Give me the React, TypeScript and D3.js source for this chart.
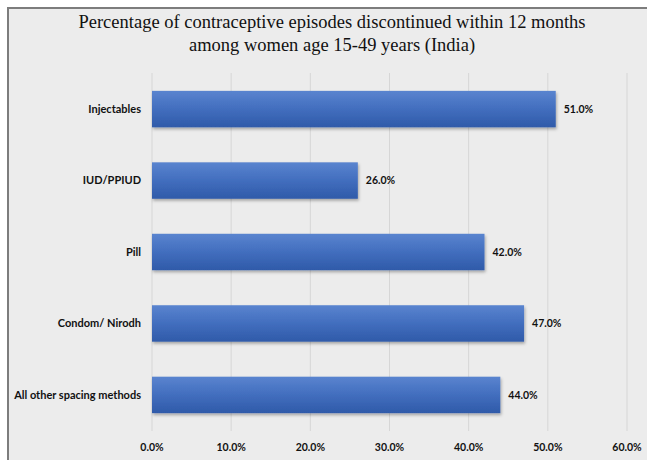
import { useEffect, useRef } from 'react';
import * as d3 from 'd3';

const titleLines = [
  'Percentage of contraceptive episodes discontinued within 12 months',
  'among women age 15-49 years (India)',
];
const categories = ['Injectables', 'IUD/PPIUD', 'Pill', 'Condom/ Nirodh', 'All other spacing methods'];
const values = [51.0, 26.0, 42.0, 47.0, 44.0];
const ticks = [0, 10, 20, 30, 40, 50, 60];

const WIDTH = 647;
const HEIGHT = 460;

export default function App() {
  const svgRef = useRef<SVGSVGElement>(null);

  useEffect(() => {
    if (!svgRef.current) return;
    const margin = { top: 73, right: 20, bottom: 29, left: 152 };
    const plotRight = 627;

    d3.select(svgRef.current).selectAll('*').remove();
    const svg = d3.select(svgRef.current).attr('width', WIDTH).attr('height', HEIGHT);

    // Defs: bar gradient + soft shadow
    const defs = svg.append('defs');
    const grad = defs.append('linearGradient')
      .attr('id', 'barGrad')
      .attr('x1', 0).attr('y1', 0).attr('x2', 0).attr('y2', 1);
    grad.append('stop').attr('offset', '0%').attr('stop-color', '#5a84cf');
    grad.append('stop').attr('offset', '45%').attr('stop-color', '#4470c0');
    grad.append('stop').attr('offset', '100%').attr('stop-color', '#2f5aa9');

    const shadow = defs.append('filter').attr('id', 'shadow')
      .attr('x', '-5%').attr('y', '-20%').attr('width', '110%').attr('height', '150%');
    shadow.append('feDropShadow')
      .attr('dx', 1).attr('dy', 2).attr('stdDeviation', 1.5)
      .attr('flood-color', '#000').attr('flood-opacity', 0.3);

    // Background + frame
    svg.append('rect')
      .attr('x', 0).attr('y', 0).attr('width', WIDTH).attr('height', HEIGHT)
      .attr('fill', '#ffffff');
    svg.append('rect')
      .attr('x', 8).attr('y', 8).attr('width', WIDTH + 10).attr('height', HEIGHT + 10)
      .attr('fill', '#ececec')
      .attr('stroke', '#7d7d7d')
      .attr('stroke-width', 2);

    // Title
    svg.append('g')
      .selectAll('text')
      .data(titleLines)
      .join('text')
      .attr('x', 332)
      .attr('y', (_, i) => 28 + i * 23)
      .attr('text-anchor', 'middle')
      .style('font-family', '"Liberation Serif", "Times New Roman", serif')
      .style('font-size', '18.5px')
      .attr('fill', '#111')
      .text(d => d);

    const x = d3.scaleLinear()
      .domain([0, 60])
      .range([margin.left, plotRight]);

    const y = d3.scaleBand<string>()
      .domain(categories)
      .range([margin.top, HEIGHT - margin.bottom])
      .paddingInner(0.49)
      .paddingOuter(0.25);

    // Grid lines
    svg.append('g')
      .selectAll('line')
      .data(ticks)
      .join('line')
      .attr('x1', d => x(d))
      .attr('x2', d => x(d))
      .attr('y1', margin.top)
      .attr('y2', HEIGHT - margin.bottom)
      .attr('stroke', '#d6d6d6')
      .attr('stroke-width', 1);

    // Bars
    svg.append('g')
      .selectAll('rect')
      .data(values)
      .join('rect')
      .attr('x', x(0))
      .attr('y', (_, i) => y(categories[i])!)
      .attr('width', d => x(d) - x(0))
      .attr('height', y.bandwidth())
      .attr('fill', 'url(#barGrad)')
      .attr('filter', 'url(#shadow)');

    // Value labels
    svg.append('g')
      .selectAll('text')
      .data(values)
      .join('text')
      .attr('x', d => x(d) + 8)
      .attr('y', (_, i) => y(categories[i])! + y.bandwidth() / 2)
      .attr('dy', '0.35em')
      .style('font-family', 'Lato, "Open Sans", sans-serif')
      .style('font-size', '10.5px')
      .style('font-weight', 'bold')
      .attr('fill', '#111')
      .text(d => `${d.toFixed(1)}%`);

    // Category labels
    svg.append('g')
      .selectAll('text')
      .data(categories)
      .join('text')
      .attr('x', margin.left - 11)
      .attr('y', d => y(d)! + y.bandwidth() / 2)
      .attr('dy', '0.35em')
      .attr('text-anchor', 'end')
      .style('font-family', 'Lato, "Open Sans", sans-serif')
      .style('font-size', '11px')
      .style('font-weight', 'bold')
      .attr('fill', '#111')
      .text(d => d);

    // X tick labels
    svg.append('g')
      .selectAll('text')
      .data(ticks)
      .join('text')
      .attr('x', d => x(d))
      .attr('y', 451)
      .attr('text-anchor', 'middle')
      .style('font-family', 'Lato, "Open Sans", sans-serif')
      .style('font-size', '10.5px')
      .style('font-weight', 'bold')
      .attr('fill', '#111')
      .text(d => `${d.toFixed(1)}%`);
  }, []);

  return (
    <div style={{ position: 'absolute', left: 0, top: 0 }}>
      <svg ref={svgRef} style={{ display: 'block' }} />
    </div>
  );
}
